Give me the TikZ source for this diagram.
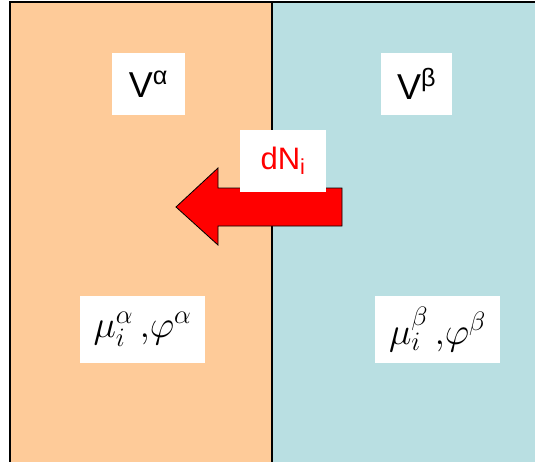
\RequirePackage{fix-cm}
\documentclass[tikz,border=0pt]{standalone}
\usepackage{fontspec}
\setmainfont{Liberation Serif}
\newfontfamily\labelfont{Liberation Sans}
\usepackage{tikz}
\usetikzlibrary{positioning}

\definecolor{peach}{RGB}{254,203,153}
\definecolor{paleblue}{RGB}{185,223,226}
\definecolor{fluxred}{RGB}{255,0,0}

\begin{document}
\begin{tikzpicture}[
  x=1pt, y=-1pt,
  phase/.style = {draw=black, line width=2pt},
  tag/.style = {fill=white, inner sep=0pt, font=\labelfont\fontsize{36}{40}\selectfont},
  mathtag/.style = {fill=white, inner sep=0pt, font=\fontsize{38}{44}\selectfont},
]
\useasboundingbox (0,0) rectangle (535,461);
\clip (0,0) rectangle (535,461);

% the two phases
\filldraw[phase, fill=peach]    (10,2)  rectangle (272,480);
\filldraw[phase, fill=paleblue] (272,2) rectangle (560,480);

% volume labels
\node[tag, minimum width=73pt, minimum height=62pt] (valpha) at (148.5,84) {V\textsuperscript{α}};
\node[tag, minimum width=71pt, minimum height=62pt] (vbeta)  at (416.5,84) {V\textsuperscript{β}};

% particle flux from beta to alpha
\filldraw[draw=black, line width=0.8pt, fill=fluxred]
  (342,188) -- (218,188) -- (218,168) -- (176,207) -- (218,245)
  -- (218,226) -- (342,226) -- cycle;
\node[tag, text=fluxred, minimum width=86pt, minimum height=62pt,
      font=\labelfont\fontsize{31}{36}\selectfont] (flux) at (283,161) {dN\textsubscript{i}};

% potentials
\node[mathtag, minimum width=125pt, minimum height=67pt] (potalpha) at (142.5,329.5)
  {$\mu_i^{\alpha}\,{,}\varphi^{\alpha}$};
\node[mathtag, minimum width=125pt, minimum height=67pt] (potbeta)  at (437.5,329.5)
  {$\mu_i^{\beta}\,{,}\varphi^{\beta}$};

\end{tikzpicture}
\end{document}
